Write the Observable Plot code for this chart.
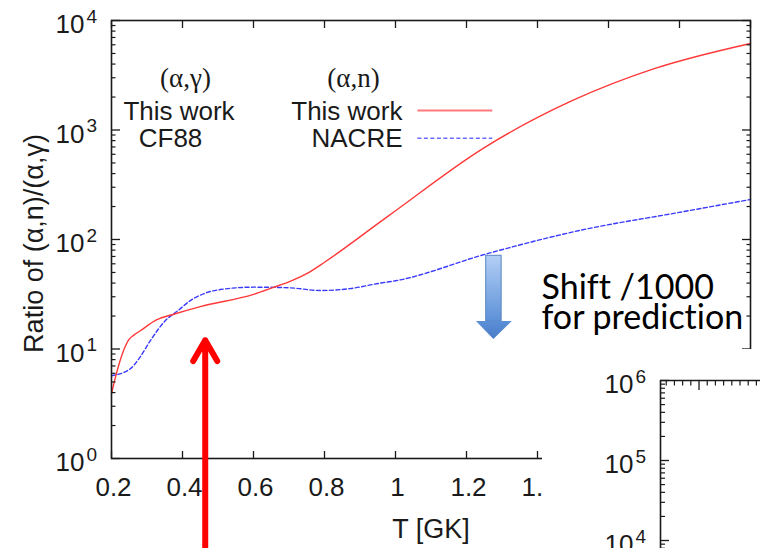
<!DOCTYPE html>
<html><head><meta charset="utf-8">
<script src="https://cdn.jsdelivr.net/npm/d3@7"></script>
<script src="https://cdn.jsdelivr.net/npm/@observablehq/plot@0.6"></script>
<style>
body{margin:0;background:#fff;}
#wrap{position:relative;width:760px;height:548px;overflow:hidden;background:#fff;}
#main{position:absolute;left:0;top:0;}
#inset{position:absolute;left:542px;top:349px;}
svg text{font-variant-ligatures:none;}
</style></head><body><div id="wrap"><div id="main"></div><div id="inset"></div></div>
<script>
// ---- data ----
const tempAlphaN_ThisWork = [0.200,0.211,0.234,0.250,0.263,0.280,0.328,0.380,0.450,0.600,0.656,0.703,0.751,0.800,0.956,1.000,1.247,1.499,1.731,2.000];
const ratioAlphaN_ThisWork = [3.9,5.5,9.7,12.3,13.4,14.6,18.5,21,24.4,31.5,36.5,41.5,49,62,144,183,680,1860,3650,6170];
const tempAlphaN_NACRE = [0.200,0.253,0.280,0.310,0.352,0.388,0.422,0.459,0.506,0.600,0.703,0.788,0.872,0.956,1.000,1.257,1.519,1.800,2.000];
const ratioAlphaN_NACRE = [5.7,6.6,8.4,12,18.2,22.5,27.7,31.9,34.9,36.7,36.2,34.2,35.6,39.9,42,74,121,177,232];

const xTicks = [0.2,0.4,0.6,0.8,1.0,1.2,1.4,1.6,1.8,2.0];
const xTickLabels = ["0.2","0.4","0.6","0.8","1","1.2","1.4","1.6","1.8","2"];
const yDecades = [1,10,100,1000,10000];
const yExponents = ["0","1","2","3","4"];
const minorSteps = [2,3,4,5,6,7,8,9];

const insetDecades = [1e4,1e5,1e6];
const insetExponents = ["4","5","6"];
const insetXMajor = [0.5];
const insetXMinor = [0.1,0.2,0.3,0.4,0.6,0.7,0.8,0.9,1.0,1.1,1.2];

const yTitle = "Ratio of (α,n)/(α,γ)";
const xTitle = "T [GK]";
const legendHeads = ["(α,γ)","(α,n)"];
const legendLeft = ["This work","CF88"];
const legendRight = ["This work","NACRE"];
const noteLines = ["Shift /1000","for prediction"];

// annotations (data units)
const legendKeyThisWork = [{T1:1.063, T2:1.274, R:1507}];
const legendKeyNACRE = [{T1:1.063, T2:1.274, R:841}];
const redArrow = [{T:0.464, from:0.13, to:12}];
const blueShaft = [{T1:1.2555, T2:1.2990, lo:17.8, hi:71}];
const blueHead = [{T:1.2280, base:17.8, tip:17.8},{T:1.2771, base:17.8, tip:12.2},{T:1.3290, base:17.8, tip:17.8}];

// ---- build ----
const red = tempAlphaN_ThisWork.map((T,i)=>({T, R:ratioAlphaN_ThisWork[i]}));
const blue = tempAlphaN_NACRE.map((T,i)=>({T, R:ratioAlphaN_NACRE[i]}));
const xLab = xTicks.map((v,i)=>({v, s:xTickLabels[i]}));
const yLab = yDecades.map((v,i)=>({v, e:yExponents[i]}));
const minorOf = decs => decs.flatMap(d => minorSteps.map(m => d*m));
const yMinor = minorOf(yDecades.slice(0,4));
const insetLab = insetDecades.map((v,i)=>({v, e:insetExponents[i]}));
const insetMinor = [8e3,9e3, ...minorOf([1e4,1e5])];

const font = "Liberation Sans, Arial, Helvetica, sans-serif";
const ink = "#1a1a1a";

const defs = () => {
  const d = d3.create("svg:defs");
  const g = d.append("linearGradient").attr("id","blueGrad").attr("x1",0).attr("y1",0).attr("x2",0).attr("y2",1);
  g.append("stop").attr("offset","0%").attr("stop-color","#b3cff6");
  g.append("stop").attr("offset","100%").attr("stop-color","#5d91d8");
  const h = d.append("linearGradient").attr("id","headGrad").attr("x1",0).attr("y1",0).attr("x2",0).attr("y2",1);
  h.append("stop").attr("offset","0%").attr("stop-color","#5b8fd8");
  h.append("stop").attr("offset","100%").attr("stop-color","#4a7cc6");
  return d.node();
};

const noteStyle = {frameAnchor:"top-left", dx:430, lineAnchor:"bottom", textAnchor:"start", fontSize:34, fontFamily:"Lato, Open Sans, sans-serif", fill:"#000"};

const main = Plot.plot({
  width:760, height:548,
  marginLeft:111, marginRight:10, marginTop:20, marginBottom:90,
  x:{domain:[0.2,2.0], label:null},
  y:{type:"log", domain:[1,1e4], label:null},
  style:{fontFamily:font, background:"white", color:ink},
  marks:[
    defs,
    Plot.line(blue, {x:"T", y:"R", stroke:"#3a3aff", strokeWidth:1.4, strokeDasharray:"4,2.5", curve:"monotone-x"}),
    Plot.line(red, {x:"T", y:"R", stroke:"#ff3838", strokeWidth:1.4, curve:"monotone-x"}),
    Plot.frame({stroke:ink, strokeWidth:1.6}),
    Plot.axisX({anchor:"bottom", ticks:xTicks, tickSize:-7, tickFormat:()=>"", strokeWidth:1.3, label:null}),
    Plot.axisX({anchor:"top", ticks:xTicks, tickSize:-7, tickFormat:()=>"", strokeWidth:1.3, label:null}),
    Plot.axisY({anchor:"left", ticks:yDecades, tickSize:-9, tickFormat:()=>"", strokeWidth:1.3, label:null}),
    Plot.axisY({anchor:"right", ticks:yDecades, tickSize:-9, tickFormat:()=>"", strokeWidth:1.3, label:null}),
    Plot.axisY({anchor:"left", ticks:yMinor, tickSize:-4.5, tickFormat:()=>"", strokeWidth:1.2, label:null}),
    Plot.axisY({anchor:"right", ticks:yMinor, tickSize:-4.5, tickFormat:()=>"", strokeWidth:1.2, label:null}),
    Plot.text(xLab, {x:"v", frameAnchor:"bottom", text:"s", dy:19, dx:2, lineAnchor:"top", fontSize:26, fill:ink}),
    Plot.text(yLab, {y:"v", frameAnchor:"left", text:()=>"10", dx:-27, dy:12.5, textAnchor:"end", lineAnchor:"bottom", fontSize:26, fill:ink}),
    Plot.text(yLab, {y:"v", frameAnchor:"left", text:"e", dx:-25, dy:2, textAnchor:"start", lineAnchor:"bottom", fontSize:19, fill:ink}),
    Plot.text([yTitle], {frameAnchor:"left", rotate:-90, dx:-69, dy:4, fontSize:27, textAnchor:"middle", lineAnchor:"bottom", fill:ink}),
    Plot.text([xTitle], {frameAnchor:"bottom", dy:79, fontSize:27, textAnchor:"middle", lineAnchor:"bottom", fill:ink}),
    // legend
    Plot.text([legendHeads[0]], {frameAnchor:"top-left", dx:74, dy:66, fontSize:27, fontFamily:"Liberation Serif, Times New Roman, serif", textAnchor:"middle", lineAnchor:"bottom", fill:ink}),
    Plot.text([legendHeads[1]], {frameAnchor:"top-left", dx:242, dy:66, fontSize:27, fontFamily:"Liberation Serif, Times New Roman, serif", textAnchor:"middle", lineAnchor:"bottom", fill:ink}),
    Plot.text([legendLeft[0]], {frameAnchor:"top-left", dx:67.5, dy:99, fontSize:26, textAnchor:"middle", lineAnchor:"bottom", fill:ink}),
    Plot.text([legendLeft[1]], {frameAnchor:"top-left", dx:59, dy:126.5, fontSize:26, textAnchor:"middle", lineAnchor:"bottom", fill:ink}),
    Plot.text([legendRight[0]], {frameAnchor:"top-left", dx:291, dy:99, fontSize:26, textAnchor:"end", lineAnchor:"bottom", fill:ink}),
    Plot.text([legendRight[1]], {frameAnchor:"top-left", dx:291, dy:126.5, fontSize:26, textAnchor:"end", lineAnchor:"bottom", fill:ink}),
    Plot.ruleY(legendKeyThisWork, {y:"R", x1:"T1", x2:"T2", stroke:"#ff7a7a", strokeWidth:2.2}),
    Plot.ruleY(legendKeyNACRE, {y:"R", x1:"T1", x2:"T2", stroke:"#6a6aff", strokeWidth:1.6, strokeDasharray:"4,2.5"}),
    // annotations
    Plot.rect(blueShaft, {x1:"T1", x2:"T2", y1:"lo", y2:"hi", fill:"url(#blueGrad)", stroke:"#5a85c0", strokeWidth:1}),
    Plot.areaY(blueHead, {x:"T", y1:"base", y2:"tip", fill:"url(#headGrad)", curve:"linear"}),
    Plot.text([noteLines[0]], {...noteStyle, dy:278}),
    Plot.text([noteLines[1]], {...noteStyle, dy:308}),
    Plot.arrow(redArrow, {x:"T", y1:"from", y2:"to", stroke:"#ff0000", strokeWidth:6, headLength:6, headAngle:60})
  ]
});
document.getElementById("main").appendChild(main);

const inset = Plot.plot({
  width:218, height:199,
  marginLeft:118, marginRight:0, marginTop:31, marginBottom:0,
  x:{domain:[0.03,1.25], label:null},
  y:{type:"log", domain:[10**3.9, 1e6], label:null},
  style:{fontFamily:font, background:"white", color:ink},
  marks:[
    Plot.ruleX([0.03], {stroke:ink, strokeWidth:1.6}),
    Plot.ruleY([1e6], {stroke:ink, strokeWidth:1.6}),
    Plot.axisY({anchor:"left", ticks:insetDecades, tickSize:-9, tickFormat:()=>"", strokeWidth:1.3, label:null}),
    Plot.axisY({anchor:"left", ticks:insetMinor, tickSize:-5, tickFormat:()=>"", strokeWidth:1.2, label:null}),
    Plot.axisX({anchor:"top", ticks:insetXMajor, tickSize:-9, tickFormat:()=>"", strokeWidth:1.3, label:null}),
    Plot.axisX({anchor:"top", ticks:insetXMinor, tickSize:-4.5, tickFormat:()=>"", strokeWidth:1.2, label:null}),
    Plot.text(insetLab, {y:"v", frameAnchor:"left", text:()=>"10", dx:-27, dy:12.5, textAnchor:"end", lineAnchor:"bottom", fontSize:26, fill:ink}),
    Plot.text(insetLab, {y:"v", frameAnchor:"left", text:"e", dx:-25, dy:2, textAnchor:"start", lineAnchor:"bottom", fontSize:19, fill:ink})
  ]
});
document.getElementById("inset").appendChild(inset);
</script></body></html>
